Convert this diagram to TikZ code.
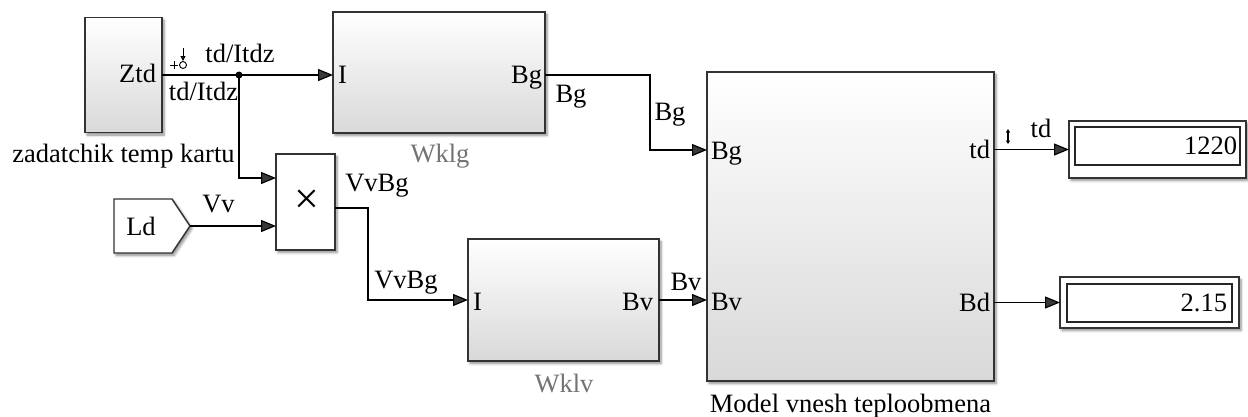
\documentclass[tikz,border=0pt]{standalone}
\usepackage{fontspec}
\setmainfont{Liberation Serif}
\usetikzlibrary{arrows.meta,shadows.blur}
\begin{document}
\begin{tikzpicture}[x=1pt,y=-1pt,
  lbl/.style={font=\fontsize{26.5}{30}\selectfont, inner sep=0pt, outer sep=0pt},
  glbl/.style={lbl, text=black!55},
  shd/.style={blur shadow={shadow xshift=2pt, shadow yshift=-2.5pt,
      shadow blur radius=2.5pt, shadow blur steps=6, shadow opacity=45}},
  blk/.style={rectangle, draw=black!80, line width=1.4pt, inner sep=0pt, outer sep=0pt,
      top color=white, bottom color=black!15, shd},
  wblk/.style={rectangle, draw=black!80, line width=1.4pt, inner sep=0pt, outer sep=0pt,
      fill=white, shd},
  frame/.style={rectangle, draw=black!85, line width=1.1pt, inner sep=0pt, outer sep=0pt},
  wire/.style={line width=1.2pt},
  sig/.style={wire, -{Triangle[length=15pt,width=12pt]}},
]
\useasboundingbox (0,0) rectangle (1248,416);

% blocks
\node[blk, minimum width=77pt, minimum height=115pt] (ztd) at (123.5,75) {};
\node[blk, minimum width=212pt, minimum height=121pt] (wklg) at (439,72.5) {};
\node[wblk, minimum width=59pt, minimum height=96pt] (prod) at (305.5,202) {};
\node[blk, minimum width=191pt, minimum height=122pt] (wklv) at (563.5,300) {};
\node[blk, minimum width=287pt, minimum height=309pt] (model) at (850.5,226.5) {};

% constant source Ld
\path[draw=black!80, line width=1.4pt, fill=white, shd]
  (114,199) -- (172,199) -- (190,226) -- (172,253) -- (114,253) -- cycle;
\coordinate (ldtip) at (190,226);
\node[lbl, anchor=base] (ldtxt) at (141,235) {Ld};

% displays
\node[wblk, minimum width=177pt, minimum height=57pt] (disp1) at (1157.5,149.5) {};
\node[frame, minimum width=165pt, minimum height=38pt] (disp1in) at (1157.5,146) {};
\node[wblk, minimum width=179pt, minimum height=51pt] (disp2) at (1149.5,302.5) {};
\node[frame, minimum width=165pt, minimum height=38pt] (disp2in) at (1149.5,303) {};
\node[lbl, anchor=base east] (v1) at (1237,154) {1220};
\node[lbl, anchor=base east] (v2) at (1227,311) {2.15};

% block texts
\node[lbl, anchor=base east] (ztdlbl) at (156,82) {Ztd};
\node[lbl, anchor=base] (ztdname) at (123.5,162) {zadatchik temp kartu};
\node[lbl, anchor=base west] (wklgin) at (338,83) {I};
\node[lbl, anchor=base east] (wklgout) at (542,83) {Bg};
\node[glbl, anchor=base] (wklgname) at (440,162) {Wklg};
\node[lbl, font=\fontsize{44}{46}\selectfont] (times) at (306.5,202) {×};
\node[lbl, anchor=base west] (wklvin) at (473,310) {I};
\node[lbl, anchor=base east] (wklvout) at (653,310) {Bv};
\node[glbl, anchor=base] (wklvname) at (564,392) {Wklv};
\node[lbl, anchor=base west] (mbg) at (711,159) {Bg};
\node[lbl, anchor=base west] (mbv) at (711,310) {Bv};
\node[lbl, anchor=base east] (mtd) at (990,158) {td};
\node[lbl, anchor=base east] (mbd) at (990,311) {Bd};
\node[lbl, anchor=base] (mname) at (850.5,412) {Model vnesh teploobmena};

% signal labels
\node[lbl, anchor=base] (s1) at (240,62) {td/Itdz};
\node[lbl, anchor=base] (s2) at (203.5,100) {td/Itdz};
\node[lbl, anchor=base] (s3) at (218.5,212) {Vv};
\node[lbl, anchor=base] (s4) at (377,191) {VvBg};
\node[lbl, anchor=base] (s5) at (406,288) {VvBg};
\node[lbl, anchor=base] (s6) at (571,102) {Bg};
\node[lbl, anchor=base] (s7) at (670,120) {Bg};
\node[lbl, anchor=base] (s8) at (686,290) {Bv};
\node[lbl, anchor=base] (s9) at (1041,137) {td};

% test-point marker on the Ztd output
\draw[line width=0.9pt] (170,65) -- (178,65) (174,61) -- (174,69);
\draw[line width=0.9pt] (183,65) circle (3.5pt);
\draw[line width=1pt, -{Triangle[length=5pt,width=5pt]}] (183,48) -- (183,61);

% signal-dimension marker on td output
\draw[line width=1.1pt, {Triangle[length=3.5pt,width=4pt]}-{Triangle[length=3.5pt,width=4pt]}] (1008,129) -- (1008,144);

% connectors
\coordinate (j) at (239,75);
\coordinate (pbend) at (368,300);
\coordinate (bgbend) at (650,150);
\draw[sig] (ztd.east) -- (wklg.west |- ztd.east);
\fill (j) circle (3.5pt);
\draw[sig] (j) |- ([yshift=24pt]prod.west);
\draw[sig] (ldtip) -- ([yshift=-24pt]prod.west);
\draw[sig] ([yshift=-6pt]prod.east) -| (pbend) -- (wklv.west);
\draw[sig] (wklg.east |- ztd.east) -| (bgbend) -- (model.west |- bgbend);
\draw[sig] (wklv.east) -- (model.west |- wklv.east);
\draw[sig] (model.east |- disp1.west) -- (disp1.west);
\draw[sig] (model.east |- disp2.west) -- (disp2.west);
\end{tikzpicture}
\end{document}
